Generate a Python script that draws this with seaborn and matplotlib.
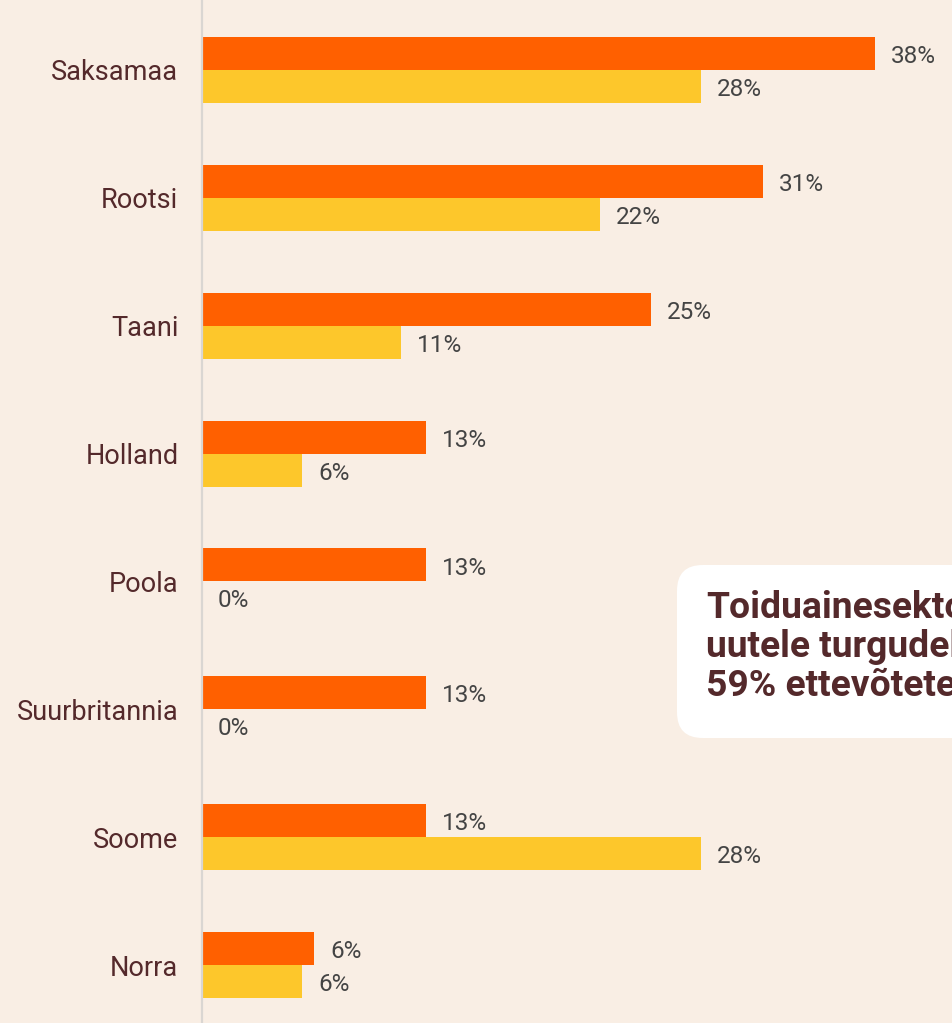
import pandas as pd
import matplotlib.pyplot as plt
import seaborn as sns
from matplotlib.patches import FancyBboxPatch

# Data
countries = ['Saksamaa', 'Rootsi', 'Taani', 'Holland', 'Poola', 'Suurbritannia', 'Soome', 'Norra']
series_a = [37.5, 31.25, 25.0, 12.5, 12.5, 12.5, 12.5, 6.25]
series_b = [27.8, 22.2, 11.1, 5.6, 0.0, 0.0, 27.8, 5.6]
labels_a = ['38%', '31%', '25%', '13%', '13%', '13%', '13%', '6%']
labels_b = ['28%', '22%', '11%', '6%', '0%', '0%', '28%', '6%']
series_names = ['Seeria 1', 'Seeria 2']
colors = ['#FF6000', '#FDC72B']
callout = 'Toiduainesektoris\nuutele turgudele\n59% ettevõtetest'

df = pd.DataFrame({
    'riik': countries * 2,
    'seeria': [series_names[0]] * len(countries) + [series_names[1]] * len(countries),
    'osakaal': series_a + series_b,
})

bg = '#F9EEE4'
sns.set_style('white')
plt.rcParams['font.family'] = ['Roboto', 'DejaVu Sans']

fig = plt.figure(figsize=(9.53, 10.23), dpi=100, facecolor=bg)
ax = fig.add_axes([202 / 953, 0, 1 - 202 / 953, 1])
ax.set_facecolor(bg)

sns.barplot(data=df, y='riik', x='osakaal', hue='seeria', orient='h',
            palette=colors, width=0.516, gap=0, linewidth=0,
            saturation=1, legend=False, ax=ax)

for cont, labs in zip(ax.containers, [labels_a, labels_b]):
    texts = ax.bar_label(cont, labels=labs, padding=11.5, fontsize=17.5, color='#444444')
    for t in texts:
        # nudge down a little, labels sit slightly below bar centre
        t.xyann = (t.xyann[0], t.xyann[1] - 2.2)

ax.set_xlim(0, 41.85)
ax.set_ylim(7.453, -0.547)
ax.set_xlabel('')
ax.set_ylabel('')
ax.set_xticks([])
ax.tick_params(axis='y', length=0, pad=17, labelsize=19.5, labelcolor='#54292B')
for s in ['top', 'right', 'bottom']:
    ax.spines[s].set_visible(False)
ax.spines['left'].set_color('#DAD6D2')
ax.spines['left'].set_linewidth(1.6)

# white callout box, cut off by the right edge as in the original
box = FancyBboxPatch((677 / 953, 1 - 738 / 1023), 0.4, (738 - 565) / 1023,
                     boxstyle='round,pad=0,rounding_size=0.027',
                     transform=fig.transFigure, facecolor='white', edgecolor='none',
                     mutation_aspect=953 / 1023)
fig.patches.append(box)
fig.text(706 / 953, 1 - 647 / 1023, callout, fontsize=26.8, fontweight='bold',
         color='#54292B', va='center', ha='left', linespacing=1.12)

fig.savefig('out.png', dpi=100, facecolor=bg)
